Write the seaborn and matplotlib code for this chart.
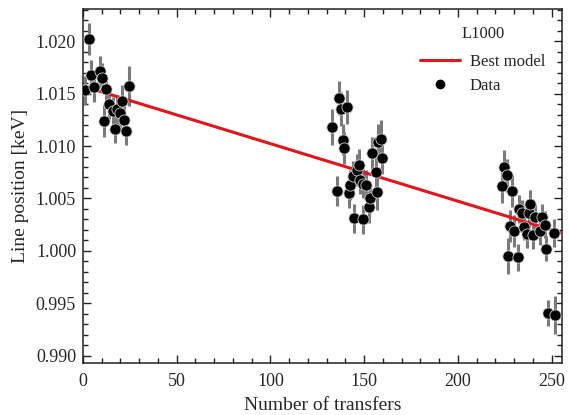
import numpy as np
import pandas as pd
import matplotlib
matplotlib.use("Agg")
import matplotlib.pyplot as plt
from matplotlib.ticker import MultipleLocator
from matplotlib.lines import Line2D
import seaborn as sns

# ---- data ----
transfers = [1, 3, 4.5, 6, 9, 10, 11, 12.5, 14, 16, 17, 18, 19.5, 21, 22, 23, 24.5,
             133, 135.5, 136.3, 137.6, 138.5, 139.4, 141, 141.7, 142.4, 143.8, 144.3,
             146.4, 147, 147.5, 149.3, 149.5, 151, 152.3, 153, 154.1, 156.2, 157,
             157.6, 158.9, 159.7,
             223.6, 224.5, 226.2, 226.8, 228, 228.9, 229.8, 231.9, 232.4, 234.2,
             235.1, 236.9, 237.8, 238.6, 240, 241.3, 244, 244.8, 246.3, 247, 248,
             251.1, 252]
line_position = [1.0153, 1.0202, 1.0168, 1.0156, 1.0171, 1.0165, 1.0124, 1.0154, 1.0140,
                 1.0133, 1.0116, 1.0135, 1.0131, 1.0143, 1.0125, 1.0114, 1.0157,
                 1.0118, 1.0057, 1.0146, 1.0135, 1.0106, 1.0098, 1.0137, 1.0055, 1.0063,
                 1.0071, 1.0031, 1.0077, 1.0082, 1.0068, 1.0030, 1.0064, 1.0063, 1.0042,
                 1.0050, 1.0093, 1.0075, 1.0056, 1.0104, 1.0107, 1.0089,
                 1.0062, 1.0080, 1.0072, 0.9995, 1.0024, 1.0057, 1.0019, 0.9994, 1.0040,
                 1.0036, 1.0023, 1.0016, 1.0036, 1.0045, 1.0015, 1.0032, 1.0019, 1.0032,
                 1.0025, 1.0002, 0.9941, 1.0017, 0.9939]
position_err = [0.0014, 0.0015, 0.0014, 0.0014, 0.0015, 0.0014, 0.0015, 0.0014, 0.0014,
                0.0014, 0.0013, 0.0014, 0.0014, 0.0015, 0.0014, 0.0013, 0.0019,
                0.0017, 0.0014, 0.0016, 0.0016, 0.0015, 0.0015, 0.0016, 0.0014, 0.0014,
                0.0015, 0.0014, 0.0015, 0.0015, 0.0014, 0.0014, 0.0014, 0.0014, 0.0015,
                0.0014, 0.0016, 0.0016, 0.0017, 0.0017, 0.0018, 0.0016,
                0.0016, 0.0016, 0.0016, 0.0017, 0.0015, 0.0015, 0.0015, 0.0013, 0.0013,
                0.0013, 0.0013, 0.0013, 0.0013, 0.0013, 0.0013, 0.0013, 0.0013, 0.0013,
                0.0013, 0.0012, 0.0012, 0.0013, 0.0018]
model_x = [0, 255.5]
model_y = [1.0157, 1.0017]

df = pd.DataFrame({"x": transfers, "y": line_position, "err": position_err})
model = pd.DataFrame({"x": model_x, "y": model_y})

sns.set_style("ticks")
plt.rcParams["font.family"] = ["Liberation Serif", "DejaVu Serif"]

fig = plt.figure(figsize=(5.7, 4.15), dpi=100)
ax = fig.add_axes([0.1456, 0.1253, 0.8404, 0.8530])

ax.errorbar(df["x"], df["y"], yerr=df["err"], fmt="none", ecolor="#7a7a7a",
            elinewidth=2.2, capsize=0, zorder=2)
sns.lineplot(data=model, x="x", y="y", ax=ax, color="#e3141c", linewidth=2.2,
             zorder=3, legend=False)
sns.scatterplot(data=df, x="x", y="y", ax=ax, color="black", s=65,
                edgecolor="#cccccc", linewidth=0.6, zorder=4, legend=False)

ax.set_xlim(0, 255.5)
ax.set_ylim(0.98933, 1.02305)
ax.xaxis.set_major_locator(MultipleLocator(50))
ax.xaxis.set_minor_locator(MultipleLocator(10))
ax.yaxis.set_major_locator(MultipleLocator(0.005))
ax.yaxis.set_minor_locator(MultipleLocator(0.001))
ax.yaxis.set_major_formatter(matplotlib.ticker.FormatStrFormatter("%.3f"))
ax.tick_params(which="both", direction="in", top=True, right=True, labelsize=13,
               width=1, color="#222222")
ax.tick_params(axis="x", which="both", pad=7)
ax.tick_params(axis="y", which="both", pad=5)
ax.tick_params(which="major", length=6)
ax.tick_params(which="minor", length=3.5)
for s in ax.spines.values():
    s.set_linewidth(1.1)
    s.set_color("#222222")

ax.set_xlabel("Number of transfers", fontsize=14, labelpad=5)
ax.set_ylabel("Line position [keV]", fontsize=14, labelpad=5)

handles = [Line2D([], [], color="#e3141c", linewidth=2.2),
           Line2D([], [], marker="o", linestyle="none", color="black", markersize=6)]
leg = ax.legend(handles, ["Best model", "Data"], title="L1000", loc="upper right",
                frameon=False, fontsize=12, title_fontsize=12, handlelength=2.4,
                handletextpad=0.6, borderaxespad=0.6, labelspacing=0.45)
leg._legend_box.sep = 9

fig.savefig("out.png", dpi=100)
